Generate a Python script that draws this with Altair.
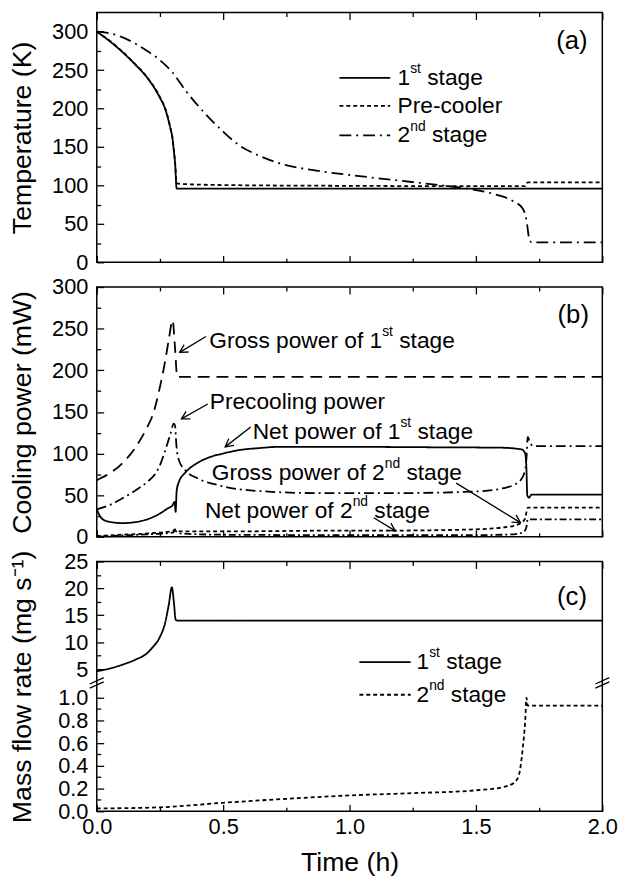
import math
import altair as alt
import pandas as pd

# ---------------- values ----------------
# (a) temperature (K) vs time (h)
a_t_stage1 = [0, 0.05, 0.10, 0.15, 0.20, 0.25, 0.27, 0.29, 0.30, 0.305, 0.31, 0.316, 1.0, 2.0]
a_v_stage1 = [300, 288, 274, 258, 240, 214, 200, 176, 160, 145, 128, 96, 96, 96]
a_t_precooler = [0, 0.05, 0.10, 0.15, 0.20, 0.25, 0.27, 0.29, 0.30, 0.305, 0.31, 0.316, 0.33, 0.5, 1.0, 1.5, 1.695, 1.705, 2.0]
a_v_precooler = [300, 288.5, 274.5, 258.5, 240.5, 215, 201, 177, 161, 146, 130, 103, 102, 100.5, 99.5, 99, 99, 104, 104]
a_t_stage2 = [0, 0.05, 0.10, 0.15, 0.20, 0.25, 0.30, 0.35, 0.40, 0.45, 0.50, 0.56, 0.64, 0.72, 0.875,
              1.03, 1.19, 1.34, 1.50, 1.58, 1.65, 1.685, 1.70, 1.71, 1.72, 2.0]
a_v_stage2 = [300, 298, 293, 285, 275, 263, 247, 224, 204, 186, 170, 153, 139, 129, 119,
              112.5, 106.5, 101, 94, 88, 79, 70, 55, 32, 26, 26]

# (b) cooling power (mW) vs time (h)
b_t_gross1 = [0, 0.05, 0.10, 0.15, 0.20, 0.22, 0.25, 0.27, 0.285, 0.30, 0.31, 0.318, 2.0]
b_v_gross1 = [68, 76, 88, 106, 132, 145, 180, 210, 237, 260, 225, 192, 192]
b_t_precool = [0, 0.05, 0.10, 0.15, 0.20, 0.23, 0.25, 0.27, 0.29, 0.305, 0.31, 0.315, 0.325, 0.35, 0.40,
               0.48, 0.64, 0.875, 1.19, 1.50, 1.61, 1.67, 1.695, 1.70, 1.705, 1.715, 1.73, 2.0]
b_v_precool = [33, 38, 46, 55, 66, 75, 86, 103, 122, 136, 133, 110, 92, 80, 70,
               62, 55, 52.5, 52.5, 54.5, 58.5, 66, 80, 95, 120, 112, 109, 109]
b_t_net1 = [0, 0.02, 0.05, 0.10, 0.15, 0.20, 0.25, 0.28, 0.30, 0.308, 0.312, 0.316, 0.325, 0.35, 0.40,
            0.45, 0.50, 0.56, 0.64, 0.72, 1.0, 1.34, 1.60, 1.68, 1.695, 1.70, 1.703, 1.71, 1.72, 2.0]
b_v_net1 = [33, 22, 18, 16.5, 17.5, 21, 28, 34, 38, 42, 30, 55, 66, 77, 89,
            96, 100, 104, 106.5, 108, 108, 107.5, 107, 105, 100, 80, 50, 47, 50.7, 50.7]
b_t_gross2 = [0, 0.10, 0.20, 0.30, 0.31, 0.33, 0.50, 1.0, 1.17, 1.50, 1.60, 1.66, 1.68, 1.695, 1.70, 1.705, 2.0]
b_v_gross2 = [1, 2.5, 4, 7, 9, 6.5, 6.5, 7.5, 7.5, 9, 11, 14, 17, 22, 30, 35, 35]
b_t_net2 = [0, 0.10, 0.20, 0.30, 0.31, 0.33, 0.50, 1.0, 1.50, 1.65, 1.69, 1.70, 1.705, 2.0]
b_v_net2 = [0, 1.5, 3, 5, 7, 4, 2.5, 2, 2, 3, 6, 12, 21, 21]

# (c) mass flow rate (mg/s) vs time (h)
c_t_stage1 = [0, 0.05, 0.10, 0.15, 0.20, 0.22, 0.25, 0.27, 0.285, 0.297, 0.305, 0.312, 0.32, 2.0]
c_v_stage1 = [4.6, 5.1, 5.8, 6.7, 8.0, 9.0, 11.0, 13.5, 17.0, 20.2, 17.5, 14.2, 14.0, 14.0]
c_t_stage2 = [0, 0.25, 0.5, 0.75, 1.0, 1.25, 1.5, 1.6, 1.65, 1.67, 1.685, 1.695, 1.70, 1.705, 2.0]
c_v_stage2 = [0.025, 0.035, 0.075, 0.11, 0.14, 0.16, 0.185, 0.21, 0.25, 0.32, 0.55, 0.8, 1.0, 0.93, 0.93]

# tick values
x_major = [0.0, 0.5, 1.0, 1.5, 2.0]
x_minor = [0.25, 0.75, 1.25, 1.75]
ab_major = [0, 50, 100, 150, 200, 250, 300]
ab_minor = [25, 75, 125, 175, 225, 275]
c_major = [0.0, 0.2, 0.4, 0.6, 0.8, 1.0, 5, 10, 15, 20, 25]
c_minor = [0.1, 0.3, 0.5, 0.7, 0.9, 7.5, 12.5, 17.5, 22.5]

# ---------------- layout / style ----------------
W_PLOT, H_PLOT = 512, 253
T_MAX = 2.0
PXT = W_PLOT / T_MAX
FONT = "Liberation Sans"
LW = 1.8
TICK_FS = 22
TITLE_FS = 27
LEG_FS = 23
ANN_FS = 23
SUP_FS = 14
TAG_FS = 26

x_scale = alt.Scale(domain=[0, T_MAX], nice=False, zero=False)
ya_scale = alt.Scale(domain=[0, 325], nice=False, zero=False)
yb_scale = alt.Scale(domain=[0, 300], nice=False, zero=False)
c_break_lo, c_break_hi = 1.13, 2.43
C_BREAK_PX = 123
yc_scale = alt.Scale(type="linear", domain=[0, c_break_lo, c_break_hi, 25],
                     range=[H_PLOT, C_BREAK_PX, C_BREAK_PX, 0], nice=False, zero=False)

SOLID = [1, 0]
SHORT = [4, 3]
DASHDOT = [12, 5, 2, 5]
LONG = [12, 7]
DASHDOT_B = [10, 4, 2, 4]
DASHDOT_C = [7, 3, 2, 3]

# Arial / Liberation Sans advance widths (1/1000 em)
AW = {' ': 278, '(': 333, ')': 333, '-': 333, '.': 278,
      'a': 556, 'b': 556, 'c': 500, 'd': 556, 'e': 556, 'f': 278, 'g': 556, 'h': 556, 'i': 222,
      'j': 222, 'k': 500, 'l': 222, 'm': 833, 'n': 556, 'o': 556, 'p': 556, 'q': 556, 'r': 333,
      's': 500, 't': 278, 'u': 556, 'v': 500, 'w': 722, 'x': 500, 'y': 500, 'z': 500,
      'C': 722, 'G': 778, 'N': 722, 'P': 667}


def text_width(s, size):
    return sum(AW.get(ch, 556) for ch in s) / 1000.0 * size


def rich(t0, v, parts, size, sup_size):
    base, sup = [], []
    x = 0.0
    for txt, is_sup in parts:
        fs = sup_size if is_sup else size
        stripped = txt.lstrip(' ')
        x += text_width(txt[:len(txt) - len(stripped)], fs)
        (sup if is_sup else base).append({'t': t0 + x / PXT, 'v': v, 'txt': stripped})
        x += text_width(stripped, fs)
    return base, sup


def series_df(pairs):
    rows = []
    for name, ts, vs in pairs:
        for t, v in zip(ts, vs):
            rows.append({'s': name, 't': t, 'v': v})
    return pd.DataFrame(rows)


def lines_layer(df, ys, dash_scale, xaxis, yaxis, interp=True):
    mk = alt.Chart(df).mark_line(strokeWidth=LW, color='black', interpolate='monotone') if interp \
        else alt.Chart(df).mark_line(strokeWidth=LW, color='black')
    return mk.encode(
        x=alt.X('t:Q', scale=x_scale, axis=xaxis),
        y=alt.Y('v:Q', scale=ys, axis=yaxis),
        strokeDash=alt.StrokeDash('s:N', scale=dash_scale, legend=None),
    )


def text_layer(rows, ys, size, dy=0, align='left'):
    df = pd.DataFrame(rows)
    return alt.Chart(df).mark_text(align=align, baseline='middle', fontSize=size, dy=dy,
                                   font=FONT, color='black').encode(
        x=alt.X('t:Q', scale=x_scale, axis=None),
        y=alt.Y('v:Q', scale=ys, axis=None),
        text='txt:N')


def frame_layers(y_major, y_minor, ys):
    host = pd.DataFrame({'t': [0.0], 'v': [y_major[0]]})

    def ax(orient, values, size):
        off = -W_PLOT if orient == 'right' else -H_PLOT
        return alt.Axis(orient=orient, offset=off, values=values, labels=False, domain=False,
                        ticks=True, tickSize=size, title=None, grid=False)

    def host_chart(xaxis, yaxis):
        return alt.Chart(host).mark_point(opacity=0).encode(
            x=alt.X('t:Q', scale=x_scale, axis=xaxis),
            y=alt.Y('v:Q', scale=ys, axis=yaxis))

    return [
        host_chart(ax('top', x_major, 7), ax('right', y_major, 7)),
        host_chart(ax('top', x_minor, 4), ax('right', y_minor, 4)),
        host_chart(ax('bottom', x_major, 7), None),
        host_chart(ax('bottom', x_minor, 4), None),
    ]


def y_label_axis(values, title, fmt=None, expr=None):
    kw = dict(orient='left', values=values, title=title, ticks=False, tickSize=0, domain=False,
              labelPadding=9, minExtent=45, maxExtent=45, titlePadding=16, labelFlush=False,
              labelOverlap=False, grid=False)
    if fmt:
        kw['format'] = fmt
    if expr:
        kw['labelExpr'] = expr
    return alt.Axis(**kw)


# ---------------- panel (a) ----------------
a_names = ['a 1st stage', 'a Pre-cooler', 'a 2nd stage']
a_dash = alt.Scale(domain=a_names, range=[SOLID, SHORT, DASHDOT])
a_df = series_df([(a_names[0], a_t_stage1, a_v_stage1),
                  (a_names[1], a_t_precooler, a_v_precooler),
                  (a_names[2], a_t_stage2, a_v_stage2)])
a_leg_rows_v = [240, 203.5, 165]
a_leg_t = [0.96, 1.161]
a_leg_df = series_df([(n, a_leg_t, [v, v]) for n, v in zip(a_names, a_leg_rows_v)])
a_base, a_sup = [], []
for parts, v in zip([[('1', False), ('st', True), (' stage', False)],
                     [('Pre-cooler', False)],
                     [('2', False), ('nd', True), (' stage', False)]], a_leg_rows_v):
    b, s = rich(1.19, v, parts, LEG_FS, SUP_FS)
    a_base += b
    a_sup += s

panel_a = alt.layer(
    lines_layer(a_df, ya_scale, a_dash, None,
                y_label_axis(ab_major, 'Temperature (K)', fmt='d')),
    *frame_layers(ab_major, ab_minor, ya_scale),
    lines_layer(a_leg_df, ya_scale, a_dash, None, None, interp=False),
    text_layer(a_base, ya_scale, LEG_FS),
    text_layer(a_sup, ya_scale, SUP_FS, dy=-9),
    text_layer([{'t': 1.88, 'v': 288, 'txt': '(a)'}], ya_scale, TAG_FS, align='center'),
).resolve_axis(x='independent', y='independent').properties(width=W_PLOT, height=H_PLOT)

# ---------------- panel (b) ----------------
b_names = ['b Gross 1st', 'b Precooling', 'b Net 1st', 'b Gross 2nd', 'b Net 2nd']
b_dash = alt.Scale(domain=b_names, range=[LONG, DASHDOT_B, SOLID, SHORT, DASHDOT_C])
b_df = series_df([(b_names[0], b_t_gross1, b_v_gross1),
                  (b_names[1], b_t_precool, b_v_precool),
                  (b_names[2], b_t_net1, b_v_net1),
                  (b_names[3], b_t_gross2, b_v_gross2),
                  (b_names[4], b_t_net2, b_v_net2)])

b_labels = [
    (0.445, 235, [('Gross power of 1', False), ('st', True), (' stage', False)]),
    (0.447, 161.5, [('Precooling power', False)]),
    (0.617, 126, [('Net power of 1', False), ('st', True), (' stage', False)]),
    (0.455, 76.5, [('Gross power of 2', False), ('nd', True), (' stage', False)]),
    (0.428, 31, [('Net power of 2', False), ('nd', True), (' stage', False)]),
]
b_base, b_sup = [], []
for t0, v, parts in b_labels:
    b, s = rich(t0, v, parts, ANN_FS, SUP_FS)
    b_base += b
    b_sup += s

# arrows: tail (t, v) -> tip (t, v)
arr_t0 = [0.432, 0.439, 0.609, 1.422, 1.096]
arr_v0 = [240.6, 159.5, 131.8, 64.5, 22.9]
arr_t1 = [0.328, 0.335, 0.508, 1.676, 1.181]
arr_v1 = [221.5, 141.6, 108.0, 17.0, 7.1]
PYB = H_PLOT / 300.0
arr_rows = []
for t0, v0, t1, v1 in zip(arr_t0, arr_v0, arr_t1, arr_v1):
    dx = (t1 - t0) * PXT
    dy = -(v1 - v0) * PYB
    ang = math.degrees(math.atan2(dy, dx)) % 360
    arr_rows.append({'t': t0, 'v': v0, 't2': t1, 'v2': v1, 'ang': ang})
arr_df = pd.DataFrame(arr_rows)
arrow_shafts = alt.Chart(arr_df).mark_rule(strokeWidth=1.3, color='black').encode(
    x=alt.X('t:Q', scale=x_scale, axis=None), y=alt.Y('v:Q', scale=yb_scale, axis=None),
    x2='t2:Q', y2='v2:Q')
arrow_heads = alt.Chart(arr_df).mark_point(
    shape='M -1 -0.55 L 0 0 L -1 0.55', size=250, filled=False, strokeWidth=1.3,
    color='black', opacity=1).encode(
    x=alt.X('t2:Q', scale=x_scale, axis=None), y=alt.Y('v2:Q', scale=yb_scale, axis=None),
    angle=alt.Angle('ang:Q', scale=None))

panel_b = alt.layer(
    lines_layer(b_df, yb_scale, b_dash, None,
                y_label_axis(ab_major, 'Cooling power (mW)', fmt='d')),
    *frame_layers(ab_major, ab_minor, yb_scale),
    arrow_shafts,
    arrow_heads,
    text_layer(b_base, yb_scale, ANN_FS),
    text_layer(b_sup, yb_scale, SUP_FS, dy=-9),
    text_layer([{'t': 1.885, 'v': 266, 'txt': '(b)'}], yb_scale, TAG_FS, align='center'),
).resolve_axis(x='independent', y='independent').properties(width=W_PLOT, height=H_PLOT)

# ---------------- panel (c) ----------------
c_names = ['c 1st stage', 'c 2nd stage']
c_dash = alt.Scale(domain=c_names, range=[SOLID, SHORT])
c_df = series_df([(c_names[0], c_t_stage1, c_v_stage1),
                  (c_names[1], c_t_stage2, c_v_stage2)])
c_leg_rows_v = [6.3, 1.026]
c_leg_t = [1.039, 1.242]
c_leg_df = series_df([(n, c_leg_t, [v, v]) for n, v in zip(c_names, c_leg_rows_v)])
c_base, c_sup = [], []
for parts, v in zip([[('1', False), ('st', True), (' stage', False)],
                     [('2', False), ('nd', True), (' stage', False)]], c_leg_rows_v):
    b, s = rich(1.265, v, parts, LEG_FS, SUP_FS)
    c_base += b
    c_sup += s

brk_df = pd.DataFrame({'t': [0.0, T_MAX], 'v': [c_break_hi, c_break_hi]})
break_marks = alt.Chart(brk_df).mark_point(
    shape='M -1 0.15 L 1 -0.75 M -1 0.75 L 1 -0.15', size=200, filled=False,
    strokeWidth=1.3, color='black', opacity=1).encode(
    x=alt.X('t:Q', scale=x_scale, axis=None), y=alt.Y('v:Q', scale=yc_scale, axis=None))

x_label_axis = alt.Axis(orient='bottom', values=x_major, format='.1f', ticks=False, tickSize=0,
                        domain=False, labelPadding=5, labelFlush=False, labelOverlap=False,
                        title='Time (h)', titlePadding=13, grid=False)

panel_c = alt.layer(
    lines_layer(c_df, yc_scale, c_dash, x_label_axis,
                y_label_axis(c_major, 'Mass flow rate (mg s\u207b\u00b9)',
                             expr="datum.value < 2 ? format(datum.value, '.1f') : format(datum.value, 'd')")),
    *frame_layers(c_major, c_minor, yc_scale),
    lines_layer(c_leg_df, yc_scale, c_dash, None, None, interp=False),
    break_marks,
    text_layer(c_base, yc_scale, LEG_FS),
    text_layer(c_sup, yc_scale, SUP_FS, dy=-9),
    text_layer([{'t': 1.88, 'v': 18.4, 'txt': '(c)'}], yc_scale, TAG_FS, align='center'),
).resolve_axis(x='independent', y='independent').properties(width=W_PLOT, height=H_PLOT)

chart = alt.vconcat(panel_a, panel_b, panel_c, spacing=25, bounds='flush').resolve_scale(
    strokeDash='independent'
).properties(
    padding={'left': 8, 'top': 5, 'right': 8, 'bottom': 5},
    background='white',
).configure_view(stroke='black', strokeWidth=1.5).configure_axis(
    grid=False, labelFont=FONT, titleFont=FONT, labelFontSize=TICK_FS, titleFontSize=TITLE_FS,
    titleFontWeight='normal', labelColor='black', titleColor='black', tickColor='black',
    tickWidth=1.3)

chart.save("out.html", embed_options={"renderer": "svg", "actions": False})
